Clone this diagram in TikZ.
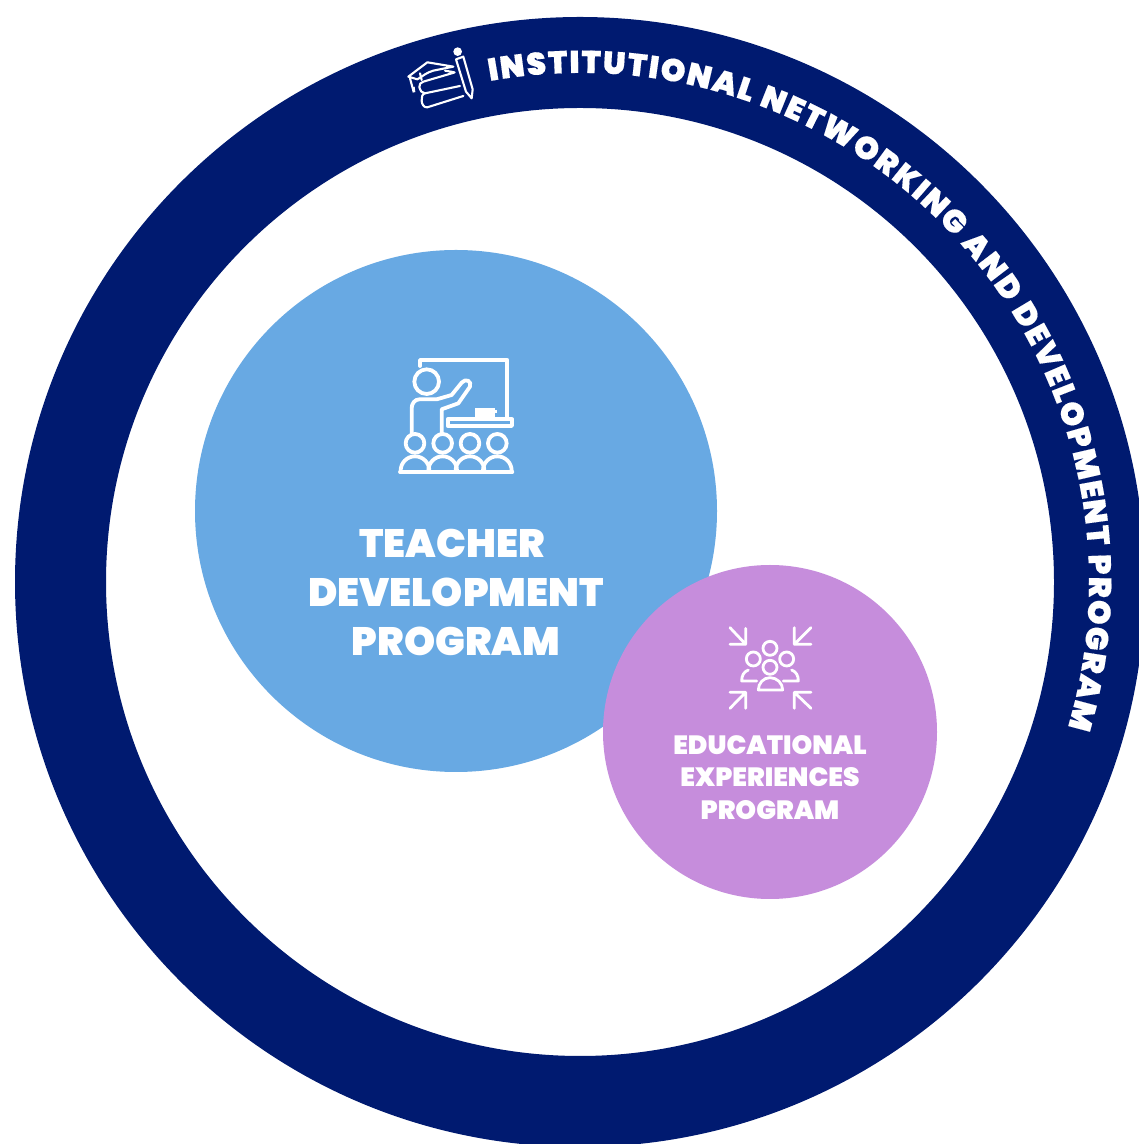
\documentclass[tikz,border=0pt]{standalone}
\usepackage{fontspec}
\setmainfont{Poppins Black}
\newfontface\ringfont{Poppins Black}[FakeBold=0.3]
\usetikzlibrary{decorations.text}
\definecolor{navy}{HTML}{001A70}
\definecolor{skyb}{HTML}{68A9E3}
\definecolor{lilac}{HTML}{C68DDC}
\tikzset{
  x=1pt,y=1pt,
  iconline/.style={draw=white,line cap=round,line join=round,fill=none},
  disc/.style={circle,inner sep=0pt,outer sep=0pt,fill=#1},
  label/.style={text=white,align=center,inner sep=0pt}
}
\begin{document}
\begin{tikzpicture}
\useasboundingbox (0,0) rectangle (1139,1144);
\clip (0,0) rectangle (1139,1144);
\fill[white] (0,0) rectangle (1139,1144);
% ring
\coordinate (ringc) at (580,562);
\fill[navy,even odd rule] (ringc) circle[radius=565] (ringc) circle[radius=474];
% circles
\node[disc=skyb,minimum size=522pt] (teacher) at (456,633) {};
\node[disc=lilac,minimum size=334pt] (edu) at (770,412) {};
% texts
\node[label,font=\fontsize{39.6}{49}\selectfont] (teachertext) at (456,552) {TEACHER\hspace*{8pt}\\DEVELOPMENT\\PROGRAM};
\node[label,font=\fontsize{26.4}{32.5}\selectfont] (edutext) at (770,366.5) {EDUCATIONAL\\EXPERIENCES\\PROGRAM};
% ring text
\path[decorate,decoration={text along path,text align={fit to path},
   text={|\ringfont\fontsize{31.5}{31.5}\selectfont\color{white}|INSTITUTIONAL NETWORKING AND DEVELOPMENT PROGRAM}}]
   (ringc) ++(100.2:509) arc[start angle=100.2,end angle=-16.6,radius=509];
% teacher icon
\begin{scope}[shift={(380,804)},x=0.3333pt,y=-0.3333pt,iconline,line width=3.8pt]
 \draw (120,78)--(120,60)--(382,60)--(382,230);
 \draw (140,125) circle[radius=37];
 \draw (95,280)--(95,205) to[out=90,in=180] (118,178)--(170,178)--(215,165)--(245,128)
   to[out=50,in=70,looseness=1.7] (270,140)--(235,190)--(185,208)--(185,280);
 \draw (203,238)--(396,238)--(396,258)--(203,258)--cycle;
 \fill[white] (285,205) rectangle (345,236);
 \fill[white] (345,210) rectangle (352,220);
 \foreach \cx in {105,188,270,352}{
   \draw (\cx,310) circle[radius=28];
   \draw (\cx-43,396)--(\cx-43,392) arc[start angle=180,end angle=360,radius=43]--(\cx+43,396);
 }
 \draw (60,396)--(397,396);
\end{scope}
% people icon
\begin{scope}[shift={(715,529)},x=0.3333pt,y=-0.3333pt,iconline,line width=2.8pt]
 \draw (45,38)--(92,88) (92,40)--(92,88)--(45,88);
 \draw (288,38)--(238,88) (238,38)--(238,88)--(288,88);
 \draw (45,280)--(92,232) (45,232)--(92,232)--(92,280);
 \draw (288,280)--(238,232) (288,232)--(238,232)--(238,280);
 \draw (165,100) circle[radius=21];
 \draw (115,132) circle[radius=21];
 \draw (215,132) circle[radius=21];
 \draw (165,157) circle[radius=21];
 \draw (130,225) to[out=90,in=180] (165,188) to[out=0,in=90] (203,225)--cycle;
 \draw (125,198)--(80,198) to[out=90,in=200] (100,165);
 \draw (205,198)--(250,198) to[out=90,in=-20] (230,165);
\end{scope}
% books icon
\begin{scope}[shift={(380,1114)},x=0.3333pt,y=-0.3333pt,iconline,line width=2.1pt]
 \draw (85,140)--(142,97)--(220,110)--(160,122) to[out=195,in=30] (112,148)--cycle;
 \draw (90,145)--(100,182);
 \fill[white] (96,172)--(104,170)--(106,186)--(98,188)--cycle;
 \draw (195,122) to[out=-10,in=0] (222,128)--(130,155) to[out=190,in=100] (118,172) to[out=-80,in=180] (135,190)--(240,168);
 \draw (135,190) to[out=190,in=90] (125,212) to[out=-90,in=190] (142,232)--(250,198);
 \draw (125,150)--(120,130);
 \draw (228,88)--(258,185)--(275,205)--(278,178)--(250,80)--cycle;
 \fill[white] (233,65) circle[radius=13];
\end{scope}
\end{tikzpicture}
\end{document}
